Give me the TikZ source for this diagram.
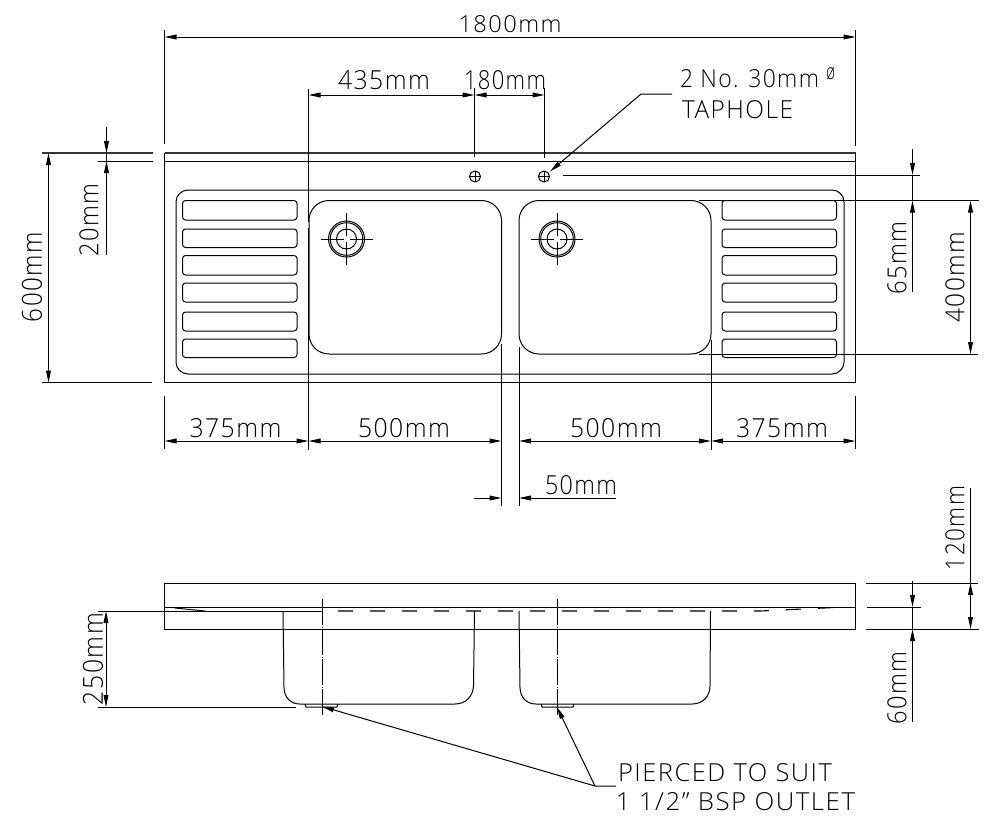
\documentclass[tikz,border=0pt]{standalone}
\usepackage{graphicx}
\usepackage{fontspec}
\setmainfont{Open Sans Light}[LetterSpace=6]
\usetikzlibrary{arrows.meta}
\newcommand{\fitT}[3]{\resizebox{#1pt}{#2pt}{#3}}
\tikzset{
  ln/.style={line width=1pt,black},
  hv/.style={line width=1.3pt,black!80},
  tip/.style={-{Triangle[length=12pt,width=4.8pt]}},
  both/.style={{Triangle[length=12pt,width=4.8pt]}-{Triangle[length=12pt,width=4.8pt]}},
  lbl/.style={inner sep=0pt,outer sep=0pt,black},
  cline/.style={line width=1pt,black,dash pattern=on 26pt off 1.5pt on 1pt off 1.5pt},
  hid/.style={line width=1.1pt,black,dash pattern=on 15pt off 17pt},
  slot/.style={line width=1pt,black,rounded corners=3pt},
}
\begin{document}
\begin{tikzpicture}[x=1pt,y=-1pt]
\useasboundingbox (0,0) rectangle (1000,828);
\fill[white] (0,0) rectangle (1000,828);
% ---- top view body
\draw[ln] (164.5,153) rectangle (855.5,382.5);
\draw[hv] (164.5,153) -- (855.5,153);
\draw[ln] (164.5,161) -- (855.5,161);
\draw[ln,rounded corners=12pt] (176,190) rectangle (844,374);
\draw[ln,rounded corners=20pt] (309,200.5) rectangle (501.5,354);
\draw[ln,rounded corners=20pt] (519,200.5) rectangle (711,354);
% slots
\foreach \a/\b in {200.5/220,229/247.5,255.5/275,283/302,312/331,339/357.5}{
  \draw[slot] (182.5,\a) rectangle (297,\b);
  \draw[slot] (722,\a) rectangle (836.5,\b);
}
% wastes
\foreach \c in {346.5,557}{
  \draw[ln] (\c,239) circle (18);
  \draw[ln] (\c,239) circle (16.3);
  \draw[ln] (\c,239) circle (10);
  \draw[ln] (\c-26,239) -- (\c-3,239) (\c+3,239) -- (\c+26,239);
  \draw[ln] (\c,213) -- (\c,236) (\c,242) -- (\c,265);
}
% tapholes
\foreach \c in {475,544}{
  \draw[ln] (\c,176.5) circle (5.5);
  \draw[ln] (\c-5.5,176.5) -- (\c+5.5,176.5) (\c,171) -- (\c,182);
}
% ---- extension lines top view
\draw[ln] (164.5,30) -- (164.5,144);
\draw[ln] (855.5,30) -- (855.5,146);
\draw[hv] (42,153) -- (153,153);
\draw[ln] (98,161) -- (153,161);
\draw[ln] (42,382.5) -- (152,382.5);
\draw[ln] (308.5,89) -- (308.5,222) (308.5,228) -- (308.5,450);
\draw[ln] (474.5,88) -- (474.5,157);
\draw[ln] (544.5,88) -- (544.5,158);
\draw[ln] (563,175) -- (920,175);
\draw[ln] (699,200.5) -- (979,200.5);
\draw[ln] (699,354) -- (978,354);
\draw[ln] (164.5,396) -- (164.5,449);
\draw[ln] (855.5,396) -- (855.5,449);
\draw[ln] (711,340) -- (711,450);
\draw[ln] (501.5,344) -- (501.5,506);
\draw[ln] (519,347) -- (519,506);
% dims top view
\draw[ln,both] (164.5,37) -- (855.5,37);
\draw[ln,both] (308.5,95) -- (474.5,95);
\draw[ln,tip] (510,95) -- (474.5,95);
\draw[ln,tip] (510,95) -- (544.5,95);
\draw[ln] (106.5,153) -- (106.5,161);
\draw[ln,tip] (106.5,127) -- (106.5,153);
\draw[ln,tip] (106.5,255) -- (106.5,161);
\draw[ln,both] (48.5,153) -- (48.5,382.5);
\draw[ln] (912.5,175) -- (912.5,200.5);
\draw[ln,tip] (912.5,149) -- (912.5,175);
\draw[ln,tip] (912.5,292) -- (912.5,200.5);
\draw[ln,both] (970.5,200.5) -- (970.5,354);
\draw[ln,both] (164.5,441) -- (308.5,441);
\draw[ln,both] (308.5,441) -- (501.5,441);
\draw[ln,both] (519,441) -- (711,441);
\draw[ln,both] (711,441) -- (855.5,441);
\draw[ln,tip] (474,498) -- (501.5,498);
\draw[ln,tip] (616,498) -- (519,498);
% taphole leader
\coordinate (tapA) at (672,94);
\coordinate (tapB) at (641,94);
\coordinate (tapC) at (550,171.5);
\draw[ln,tip] (tapA) -- (tapB) -- (tapC);
% labels top view
\node[lbl] (t1800) at (510,24.5) {\fitT{103}{17}{1800mm}};
\node[lbl] (t435) at (384,80) {\fitT{92}{19}{435mm}};
\node[lbl] (t180) at (505,80) {\fitT{82}{19}{180mm}};
\node[lbl] (tno) at (749.5,79) {\fitT{139}{18}{2 No. 30mm}};
\node[lbl] (tdia) at (830.5,74) {\fitT{9}{12}{ø}};
\node[lbl] (ttap) at (737.5,110) {\fitT{111}{18}{TAPHOLE}};
\node[lbl,rotate=90] (t600) at (32,277) {\fitT{90}{20}{600mm}};
\node[lbl,rotate=90] (t20) at (89,220) {\fitT{73}{19}{20mm}};
\node[lbl,rotate=90] (t65) at (897,258) {\fitT{73}{19}{65mm}};
\node[lbl,rotate=90] (t400) at (955,277) {\fitT{91}{19}{400mm}};
\node[lbl] (t375a) at (235.5,428.5) {\fitT{92}{19}{375mm}};
\node[lbl] (t500a) at (404,428.5) {\fitT{92}{19}{500mm}};
\node[lbl] (t500b) at (616,428.5) {\fitT{92}{19}{500mm}};
\node[lbl] (t375b) at (782,428.5) {\fitT{92}{19}{375mm}};
\node[lbl] (t50) at (581,485.5) {\fitT{72}{19}{50mm}};
% ---- lower view
\draw[ln] (164.5,583) rectangle (855.5,629);
\draw[ln] (164.5,607) -- (855.5,607);
\draw[ln] (98,611) -- (322,611);
\draw[ln] (175,608) -- (205,611);
\draw[hid] (338,611) -- (760,611) -- (845,607);
% bowls
\draw[ln] (283,611) -- (284,688)
  .. controls (284.5,698) and (291,704) .. (300,704)
  -- (455,704) .. controls (466,704) and (473,696) .. (473.5,686) -- (474.5,611);
\draw[ln] (519,611) -- (520,688)
  .. controls (520.5,698) and (527,704) .. (536,704)
  -- (692,704) .. controls (703,704) and (710,696) .. (710,686) -- (710.5,611);
\draw[ln] (305,704) -- (306,707) -- (337,707) -- (338,704);
\draw[ln] (541,704) -- (542,707) -- (573,707) -- (574,704);
\draw[cline] (322,599) -- (322,716);
\draw[cline] (557,599) -- (557,716);
% lower dims
\draw[ln] (98,707) -- (296,707);
\draw[ln,both] (106,611) -- (106,707);
\draw[ln] (866,583) -- (978,583);
\draw[ln] (867,607) -- (920.5,607);
\draw[ln] (866,629) -- (979,629);
\draw[ln] (912.5,607) -- (912.5,629);
\draw[ln,tip] (912.5,581) -- (912.5,607);
\draw[ln,tip] (912.5,722) -- (912.5,629);
\draw[ln] (970.5,488) -- (970.5,583);
\draw[ln,both] (970.5,583) -- (970.5,629);
\node[lbl,rotate=90] (t250) at (93,659) {\fitT{92}{20}{250mm}};
\node[lbl,rotate=90] (t120) at (955,528) {\fitT{84}{19}{120mm}};
\node[lbl,rotate=90] (t60) at (897,688) {\fitT{73}{19}{60mm}};
% pierced leaders
\coordinate (pA) at (616,786);
\coordinate (pB) at (595,786);
\coordinate (pC) at (557,707);
\coordinate (pD) at (322,706.5);
\draw[ln,tip] (pA) -- (pB) -- (pC);
\draw[ln,tip] (pB) -- (pD);
\node[lbl] (tp1) at (725,773) {\fitT{214}{18}{PIERCED TO SUIT}};
\node[lbl] (tp2) at (735.5,802) {\fitT{239}{18}{1 1/2" BSP OUTLET}};
\end{tikzpicture}
\end{document}
